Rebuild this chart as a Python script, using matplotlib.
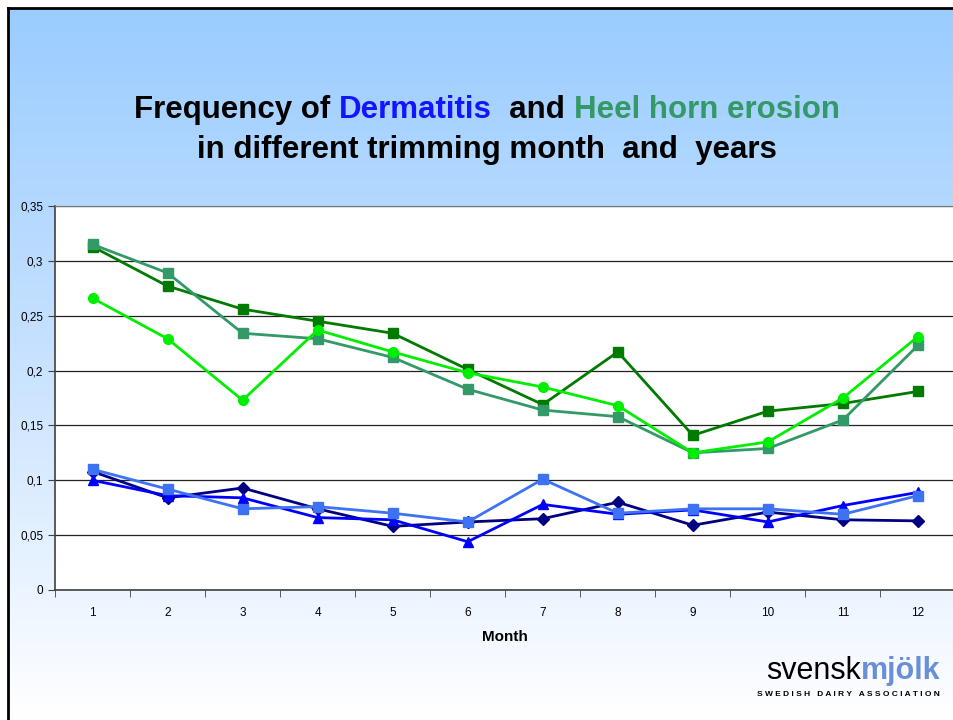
import matplotlib.pyplot as plt
import numpy as np
from matplotlib.colors import LinearSegmentedColormap
from matplotlib.ticker import FixedLocator, FuncFormatter

MONTHS = list(range(1, 13))

# Heel horn erosion (green series)
HEEL_A = [0.313, 0.277, 0.256, 0.245, 0.234, 0.201, 0.169, 0.217, 0.141, 0.163, 0.170, 0.181]
HEEL_B = [0.315, 0.289, 0.234, 0.229, 0.212, 0.183, 0.164, 0.158, 0.125, 0.129, 0.155, 0.223]
HEEL_C = [0.266, 0.229, 0.173, 0.237, 0.217, 0.198, 0.185, 0.168, 0.125, 0.135, 0.175, 0.231]

# Dermatitis (blue series)
DERM_A = [0.108, 0.084, 0.093, 0.074, 0.058, 0.062, 0.065, 0.080, 0.059, 0.071, 0.064, 0.063]
DERM_B = [0.100, 0.086, 0.084, 0.066, 0.064, 0.044, 0.078, 0.069, 0.073, 0.062, 0.077, 0.089]
DERM_C = [0.110, 0.092, 0.074, 0.076, 0.070, 0.062, 0.101, 0.070, 0.074, 0.074, 0.069, 0.086]

Y_TICKS = [0, 0.05, 0.1, 0.15, 0.2, 0.25, 0.3, 0.35]


def fmt_comma(v, _pos=None):
    if abs(v) < 1e-9:
        return "0"
    return f"{v:.2f}".rstrip("0").replace(".", ",")


fig = plt.figure(figsize=(9.54, 7.2), dpi=100)
plt.rcParams["font.family"] = ["Liberation Sans", "DejaVu Sans"]

# slide background: light blue fading to white
bg = fig.add_axes([0, 0, 1, 1], zorder=-10)
cmap = LinearSegmentedColormap.from_list("slide", ["#99ccff", "#c8e2ff", "#ffffff"])
grad = np.linspace(0, 1, 256).reshape(-1, 1)
bg.imshow(grad, aspect="auto", cmap=cmap, extent=[0, 1, 0, 1], origin="upper")
bg.set_xlim(0, 1)
bg.set_ylim(0, 1)
bg.axis("off")
# white margin and black frame at top/left
bg.fill_between([0, 1], 1 - 7 / 720, 1, color="white", zorder=2)
bg.fill_betweenx([0, 1], 0, 7 / 954, color="white", zorder=2)
bg.plot([8 / 954, 8 / 954], [0, 1 - 8 / 720], color="black", lw=2, zorder=3)
bg.plot([8 / 954, 1], [1 - 8 / 720, 1 - 8 / 720], color="black", lw=2, zorder=3)

ax = fig.add_axes([55 / 954, 130 / 720, 900.5 / 954, 384 / 720])
ax.set_facecolor("white")

ax.plot(MONTHS, DERM_A, color="#000080", marker="D", ms=6, lw=2)
ax.plot(MONTHS, DERM_B, color="#0000ff", marker="^", ms=7, lw=2)
ax.plot(MONTHS, DERM_C, color="#3d72f5", marker="s", ms=7, lw=2)
ax.plot(MONTHS, HEEL_A, color="#007a00", marker="s", ms=7, lw=2)
ax.plot(MONTHS, HEEL_B, color="#339966", marker="s", ms=7, lw=2)
ax.plot(MONTHS, HEEL_C, color="#00ee00", marker="o", ms=7, lw=2)

ax.set_xlim(0.5, 12.5)
ax.set_ylim(0, 0.35)
ax.set_xticks(MONTHS)
ax.xaxis.set_minor_locator(FixedLocator(np.arange(0.5, 13, 1.0)))
ax.tick_params(axis="x", which="major", length=0, pad=12, labelsize=8.5)
ax.tick_params(axis="x", which="minor", length=5, direction="out", color="#404040")
ax.set_yticks(Y_TICKS)
ax.yaxis.set_major_formatter(FuncFormatter(fmt_comma))
ax.tick_params(axis="y", length=5, direction="out", labelsize=8.5, color="#404040")
ax.grid(axis="y", color="#222222", lw=0.9)
ax.set_axisbelow(True)
ax.spines["right"].set_visible(False)
ax.spines["top"].set_color("#777777")
ax.spines["left"].set_color("#404040")
ax.spines["bottom"].set_color("#404040")
ax.spines["left"].set_linewidth(1.2)
ax.spines["bottom"].set_linewidth(1.2)
ax.set_xlabel("Month", fontsize=11, fontweight="bold", labelpad=8)

# multi-coloured title, laid out piece by piece
renderer = fig.canvas.get_renderer()


def colored_line(parts, y, size=22.5):
    texts = []
    for s, c in parts:
        texts.append(fig.text(0, y, s, color=c, fontsize=size, fontweight="bold",
                              ha="left", va="baseline"))
    widths = [t.get_window_extent(renderer).width for t in texts]
    x = 487 - sum(widths) / 2
    for t, w in zip(texts, widths):
        t.set_x(x / 954)
        x += w


colored_line([("Frequency of ", "black"), ("Dermatitis", "#1414ff"),
              ("  and ", "black"), ("Heel horn erosion", "#339966")], 1 - 118 / 720)
colored_line([("in different trimming month  and  years", "black")], 1 - 158 / 720)

# logo
t1 = fig.text(0, 1 - 679 / 720, "svensk", fontsize=22, color="black", va="baseline")
t2 = fig.text(0, 1 - 679 / 720, "mjölk", fontsize=22, color="#6a8fd8",
              fontweight="bold", va="baseline")
w1 = t1.get_window_extent(renderer).width
w2 = t2.get_window_extent(renderer).width
x0 = 940 - w1 - w2
t1.set_x(x0 / 954)
t2.set_x((x0 + w1) / 954)
fig.text(940 / 954, 1 - 696 / 720, "S W E D I S H   D A I R Y   A S S O C I A T I O N",
         fontsize=6, fontweight="bold", ha="right", va="baseline")

fig.savefig("out.png", dpi=100)
